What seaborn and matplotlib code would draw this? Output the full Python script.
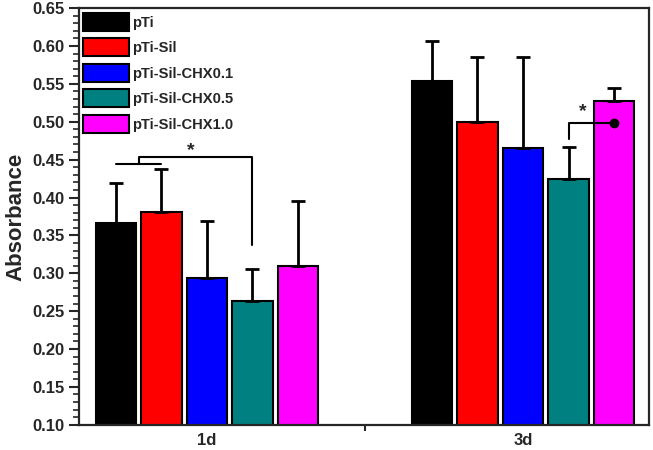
import matplotlib
matplotlib.use('Agg')
import matplotlib.pyplot as plt
from matplotlib.patches import Patch
from matplotlib.ticker import MultipleLocator, FixedLocator
import pandas as pd
import seaborn as sns

days = ['1d', '3d']
groups = ['pTi', 'pTi-Sil', 'pTi-Sil-CHX0.1', 'pTi-Sil-CHX0.5', 'pTi-Sil-CHX1.0']
colores = ['#000000', '#FF0000', '#0000FF', '#008080', '#FF00FF']

# absorbancia media por grupo (1d, 3d)
media_pti = [0.366, 0.554]
media_sil = [0.381, 0.500]
media_chx01 = [0.294, 0.466]
media_chx05 = [0.264, 0.424]
media_chx10 = [0.309, 0.527]

# desviacion (solo barra superior)
sd_pti = [0.053, 0.052]
sd_sil = [0.057, 0.086]
sd_chx01 = [0.075, 0.120]
sd_chx05 = [0.041, 0.043]
sd_chx10 = [0.086, 0.017]

medias = [media_pti, media_sil, media_chx01, media_chx05, media_chx10]
sds = [sd_pti, sd_sil, sd_chx01, sd_chx05, sd_chx10]

rows = []
for g, m, s in zip(groups, medias, sds):
    for d, v, e in zip(days, m, s):
        rows.append({'dia': d, 'grupo': g, 'abs': v, 'sd': e})
df = pd.DataFrame(rows)

sns.set_style('ticks')
plt.rcParams['font.family'] = ['Liberation Sans', 'DejaVu Sans']
plt.rcParams['font.weight'] = 'bold'

fig = plt.figure(figsize=(6.53, 4.5), dpi=100)
ax = fig.add_axes([0.121, 0.056, 0.873, 0.926])

sns.barplot(data=df, x='dia', y='abs', hue='grupo', order=days, hue_order=groups,
            palette=colores, saturation=1, width=0.72, gap=0.1, errorbar=None,
            edgecolor='black', linewidth=1.5, legend=False, ax=ax)

# barras de error hacia arriba
centros = {}
bar_conts = list(ax.containers)
for i, cont in enumerate(bar_conts):
    for j, bar in enumerate(cont):
        x = bar.get_x() + bar.get_width() / 2
        h = bar.get_height()
        centros[(groups[i], days[j])] = x
        ax.errorbar(x, h, yerr=[[0], [sds[i][j]]], color='black', lw=2,
                    capsize=5, capthick=2, zorder=1)

# significancia 1d
x0 = centros[('pTi', '1d')]
x1 = centros[('pTi-Sil', '1d')]
xm = (x0 + x1) / 2
x2 = centros[('pTi-Sil-CHX0.5', '1d')]
ax.plot([x0, x1], [0.444, 0.444], color='black', lw=1.5)
ax.plot([xm, xm, x2, x2], [0.444, 0.453, 0.453, 0.337], color='black', lw=1.5)
ax.text((xm + x2) / 2 - 0.015, 0.451, '*', ha='center', va='bottom', fontsize=14, fontweight='bold')

# significancia 3d
x3 = centros[('pTi-Sil-CHX0.5', '3d')]
x4 = centros[('pTi-Sil-CHX1.0', '3d')]
ax.plot([x3, x3, x4], [0.477, 0.499, 0.499], color='black', lw=1.5)
ax.plot([x4], [0.499], 'o', color='black', ms=6)
ax.text((x3 + x4) / 2 - 0.026, 0.502, '*', ha='center', va='bottom', fontsize=14, fontweight='bold')

ax.set_ylim(0.10, 0.65)
ax.set_xlim(-0.405, 1.399)
ax.yaxis.set_major_locator(MultipleLocator(0.05))
ax.yaxis.set_minor_locator(MultipleLocator(0.01))
ax.yaxis.set_major_formatter(matplotlib.ticker.FormatStrFormatter('%.2f'))
ax.xaxis.set_minor_locator(FixedLocator([0.5]))
ax.tick_params(axis='y', which='major', length=7, width=1.5, labelsize=12)
ax.tick_params(axis='y', which='minor', length=4, width=1.2)
ax.tick_params(axis='x', which='major', length=0, labelsize=12, pad=6)
ax.tick_params(axis='x', which='minor', length=4, width=1.5)
for lbl in ax.get_xticklabels() + ax.get_yticklabels():
    lbl.set_fontweight('bold')
for sp in ax.spines.values():
    sp.set_linewidth(1.6)

ax.set_xlabel('')
ax.set_ylabel('Absorbance', fontsize=16, fontweight='bold', labelpad=4)

referencias = [Patch(facecolor=c, edgecolor='black', linewidth=1.5) for c in colores]
ax.legend(referencias, groups, loc='upper left', frameon=False,
          handlelength=3.1, handleheight=1.55, labelspacing=0.48, handletextpad=0.2,
          borderaxespad=0.1, borderpad=0.2, prop={'weight': 'bold', 'size': 10.6})

fig.savefig('out.png', dpi=100)
